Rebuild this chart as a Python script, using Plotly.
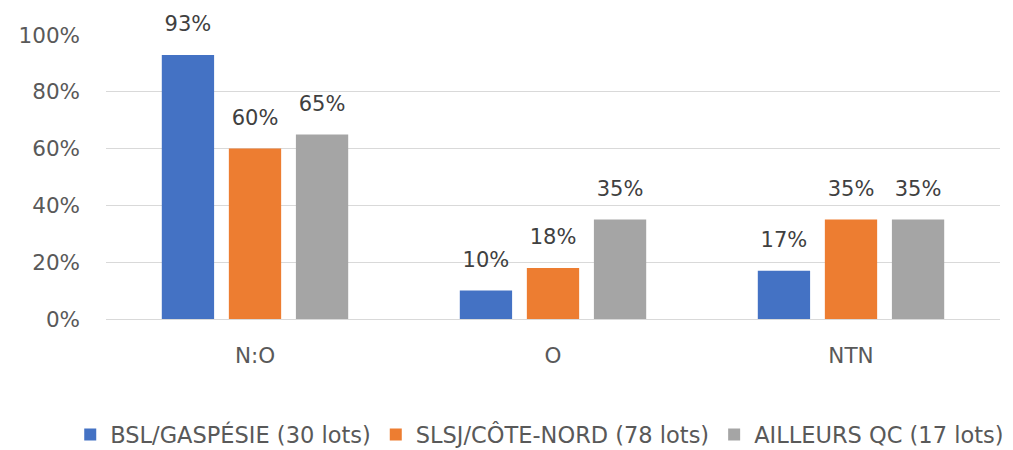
import plotly.graph_objects as go

categories = ["N:O", "O", "NTN"]
series_names = ["BSL/GASPÉSIE (30 lots)", "SLSJ/CÔTE-NORD (78 lots)", "AILLEURS QC (17 lots)"]
bsl = [93, 10, 17]
slsj = [60, 18, 35]
ailleurs = [65, 35, 35]
colors = ["#4472C4", "#ED7D31", "#A5A5A5"]
y_ticks = [0, 20, 40, 60, 80, 100]

FONT = "DejaVu Sans, sans-serif"
LABEL_PAD = 5.5  # extra space (axis units) between bar top and its value label

fig = go.Figure()
for i, (name, vals, col) in enumerate(zip(series_names, [bsl, slsj, ailleurs], colors)):
    fig.add_trace(go.Bar(
        x=categories, y=vals, name=name, marker_color=col, marker_line_width=0,
        offsetgroup=str(i), hoverinfo="x+y+name",
    ))
    # transparent spacer bar carrying the value label slightly above the real bar
    fig.add_trace(go.Bar(
        x=categories, y=[LABEL_PAD] * len(vals), base=vals, offsetgroup=str(i),
        marker_color="rgba(0,0,0,0)", marker_line_width=0, showlegend=False, hoverinfo="skip",
        text=[f"{v}%" for v in vals], textposition="outside",
        textfont=dict(size=21, color="#404040", family=FONT), cliponaxis=False,
    ))

fig.update_layout(
    width=1013, height=450,
    margin=dict(l=98, r=21, t=27, b=139, autoexpand=False),
    paper_bgcolor="white", plot_bgcolor="white",
    barmode="group", bargap=0.325, bargroupgap=0.22,
    font=dict(family=FONT, color="#595959"),
    legend=dict(orientation="h", x=-0.04, xanchor="left",
                y=-0.408, yanchor="middle",
                font=dict(size=22.5, color="#595959", family=FONT), traceorder="normal",
                itemwidth=30),
    showlegend=True,
)
fig.update_yaxes(range=[0, 100], tickvals=y_ticks, ticktext=[f"{v}%" for v in y_ticks],
                 showgrid=True, gridcolor="#D9D9D9", gridwidth=1, zeroline=False,
                 tickfont=dict(size=21.5, color="#595959", family=FONT), ticks="", ticklabelstandoff=25)
fig.update_xaxes(showline=True, linecolor="#D9D9D9", linewidth=1,
                 tickfont=dict(size=21.5, color="#595959", family=FONT), ticks="", ticklabelstandoff=17)

fig.write_html("out.html")
